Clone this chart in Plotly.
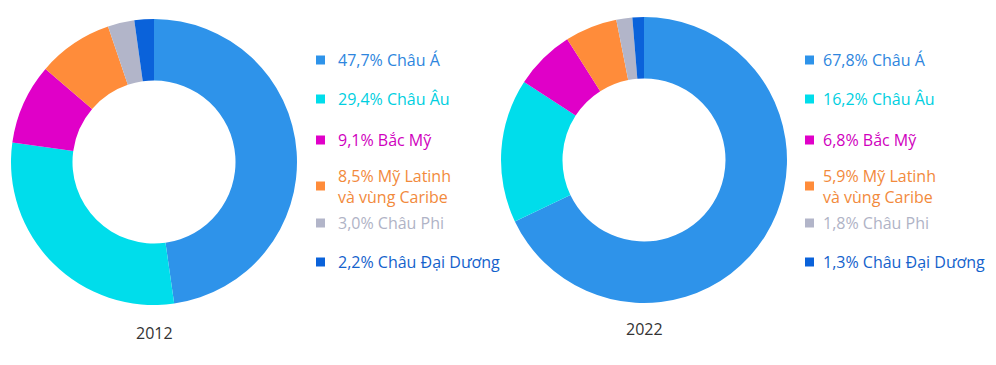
import plotly.graph_objects as go

# ---- data ----
regions = ["Châu Á", "Châu Âu", "Bắc Mỹ", "Mỹ Latinh<br>và vùng Caribe", "Châu Phi", "Châu Đại Dương"]
values_2012 = [47.7, 29.4, 9.1, 8.5, 3.0, 2.2]
values_2022 = [67.8, 16.2, 6.8, 5.9, 1.8, 1.3]
years = ["2012", "2022"]

slice_colors = ["#2E93EA", "#00DDEB", "#E000C8", "#FF8C3A", "#B2B5C9", "#0A62DA"]
text_colors = ["#2E86DE", "#00CFDF", "#D000BE", "#F28A3C", "#B0B3C6", "#1462CC"]

W, H = 996, 365
OFF = 8  # page body margin

def px(x):
    return (x - OFF) / W

def py(y):
    return 1 - (y - OFF) / H

fig = go.Figure()

# pie geometry (pixels): centre x, centre y, radius
pies = [
    dict(vals=values_2012, cx=154, cy=162, r=143, year_y=333, leg_sq=316, leg_tx=336),
    dict(vals=values_2022, cx=644, cy=160, r=143, year_y=329, leg_sq=805, leg_tx=821),
]
row_y = [60, 99, 140, 186, 223, 262]

for year, p in zip(years, pies):
    fig.add_trace(go.Pie(
        labels=regions,
        values=p["vals"],
        sort=False,
        direction="clockwise",
        rotation=0,
        hole=0.57,
        marker=dict(colors=slice_colors, line=dict(width=0)),
        textinfo="none",
        hoverinfo="label+value",
        showlegend=False,
        domain=dict(x=[px(p["cx"] - p["r"]), px(p["cx"] + p["r"])],
                    y=[py(p["cy"] + p["r"]), py(p["cy"] - p["r"])]),
    ))
    fig.add_annotation(x=px(p["cx"]), y=py(p["year_y"]), xref="paper", yref="paper",
                       text=year, showarrow=False, xanchor="center", yanchor="middle",
                       font=dict(family="Open Sans", size=16, color="#333333"))
    for i, (reg, v) in enumerate(zip(regions, p["vals"])):
        yc = row_y[i]
        label = f"{v:.1f}".replace(".", ",") + "% " + reg
        fig.add_shape(type="rect", xref="paper", yref="paper",
                      x0=px(p["leg_sq"]), x1=px(p["leg_sq"] + 9),
                      y0=py(yc - 4.5), y1=py(yc + 4.5),
                      fillcolor=slice_colors[i], line=dict(width=0))
        fig.add_annotation(x=px(p["leg_tx"]), y=py(yc), xref="paper", yref="paper",
                           text=label, showarrow=False, xanchor="left", yanchor="middle",
                           align="left",
                           font=dict(family="Open Sans", size=16, color=text_colors[i]))

fig.update_layout(
    width=W, height=H,
    margin=dict(l=0, r=0, t=0, b=0),
    paper_bgcolor="white",
    plot_bgcolor="white",
)

fig.write_html("out.html")
